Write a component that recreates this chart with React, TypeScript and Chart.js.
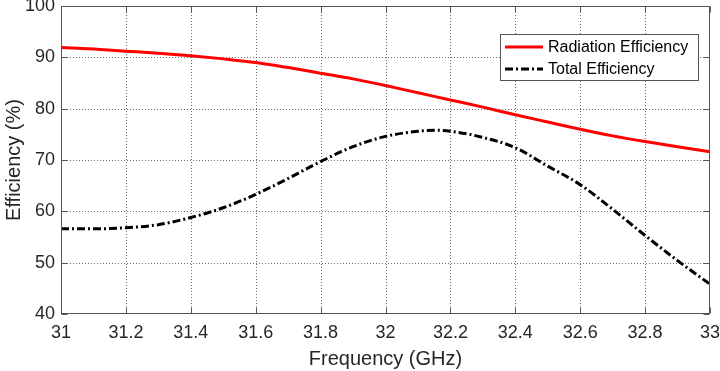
import React, { useEffect, useRef } from "react";
import { Chart, registerables } from "chart.js";

Chart.register(...registerables);

// Frequency samples (GHz)
const frequency = [
  31.0, 31.1, 31.2, 31.3, 31.4, 31.5, 31.6, 31.7, 31.8, 31.9, 32.0,
  32.1, 32.15, 32.2, 32.3, 32.4, 32.5, 32.6, 32.7, 32.8, 32.9, 33.0,
];

// Efficiency values (%)
const radiationEfficiency = [
  91.9, 91.6, 91.2, 90.8, 90.3, 89.7, 89.0, 88.0, 86.9, 85.8, 84.5,
  83.1, 82.4, 81.7, 80.3, 78.8, 77.4, 76.0, 74.7, 73.6, 72.6, 71.6,
];
const totalEfficiency = [
  56.6, 56.6, 56.8, 57.4, 58.8, 60.7, 63.3, 66.4, 69.7, 72.6, 74.6,
  75.6, 75.8, 75.6, 74.4, 72.4, 68.8, 65.2, 60.4, 55.3, 50.4, 45.8,
];

const seriesNames = ["Radiation Efficiency", "Total Efficiency"];
const xTitle = "Frequency (GHz)";
const yTitle = "Efficiency (%)";

const FONT = '"Liberation Sans", Arial, Helvetica, sans-serif';
const AXIS_COLOR = "#262626";
const RED = "#ff0000";
const BLACK = "#000000";
const TOTAL_DASH = [8, 3, 2, 3];

// Dotted grid, boxed axes with inward tick marks, and an in-plot legend
const framePlugin = {
  id: "frame",
  beforeDatasetsDraw(chart: any) {
    const { ctx, chartArea: a, scales } = chart;
    ctx.save();
    ctx.strokeStyle = "rgba(60,60,60,0.75)";
    ctx.lineWidth = 1;
    ctx.setLineDash([1, 2]);
    scales.x.ticks.forEach((t: any) => {
      const px = Math.round(scales.x.getPixelForValue(t.value)) + 0.5;
      if (px <= a.left + 1 || px >= a.right - 1) return;
      ctx.beginPath();
      ctx.moveTo(px, a.top);
      ctx.lineTo(px, a.bottom);
      ctx.stroke();
    });
    scales.y.ticks.forEach((t: any) => {
      const py = Math.round(scales.y.getPixelForValue(t.value)) + 0.5;
      if (py <= a.top + 1 || py >= a.bottom - 1) return;
      ctx.beginPath();
      ctx.moveTo(a.left, py);
      ctx.lineTo(a.right, py);
      ctx.stroke();
    });
    ctx.restore();
  },
  afterDatasetsDraw(chart: any) {
    const { ctx, chartArea: a, scales } = chart;
    ctx.save();
    ctx.strokeStyle = "#555555";
    ctx.lineWidth = 1;
    ctx.setLineDash([]);
    const L = Math.round(a.left) + 0.5;
    const R = Math.round(a.right) - 0.5;
    const T = Math.round(a.top) + 0.5;
    const B = Math.round(a.bottom) - 0.5;
    ctx.strokeRect(L, T, R - L, B - T);
    const tick = 6;
    scales.x.ticks.forEach((t: any) => {
      const px = Math.round(scales.x.getPixelForValue(t.value)) + 0.5;
      ctx.beginPath();
      ctx.moveTo(px, B);
      ctx.lineTo(px, B - tick);
      ctx.moveTo(px, T);
      ctx.lineTo(px, T + tick);
      ctx.stroke();
    });
    scales.y.ticks.forEach((t: any) => {
      const py = Math.round(scales.y.getPixelForValue(t.value)) + 0.5;
      ctx.beginPath();
      ctx.moveTo(L, py);
      ctx.lineTo(L + tick, py);
      ctx.moveTo(R, py);
      ctx.lineTo(R - tick, py);
      ctx.stroke();
    });

    // legend box in the upper right of the plot
    const bx = 500.5, by = 34.5, bw = 198, bh = 46;
    ctx.fillStyle = "#ffffff";
    ctx.fillRect(bx, by, bw, bh);
    ctx.strokeStyle = "#555555";
    ctx.strokeRect(bx, by, bw, bh);
    const rows = [
      { name: seriesNames[0], color: RED, dash: [] as number[], y: 47 },
      { name: seriesNames[1], color: BLACK, dash: TOTAL_DASH, y: 69 },
    ];
    ctx.font = `16px ${FONT}`;
    ctx.textBaseline = "middle";
    ctx.textAlign = "left";
    rows.forEach((r) => {
      ctx.strokeStyle = r.color;
      ctx.lineWidth = 3;
      ctx.setLineDash(r.dash);
      ctx.beginPath();
      ctx.moveTo(505, r.y);
      ctx.lineTo(543, r.y);
      ctx.stroke();
      ctx.setLineDash([]);
      ctx.fillStyle = "#000000";
      ctx.fillText(r.name, 548, r.y + 1);
    });
    ctx.restore();
  },
};

export default function App() {
  const canvasRef = useRef<HTMLCanvasElement | null>(null);

  useEffect(() => {
    if (!canvasRef.current) return;
    const toPoints = (ys: number[]) => frequency.map((x, i) => ({ x, y: ys[i] }));
    const chart = new Chart(canvasRef.current, {
      type: "line",
      data: {
        datasets: [
          {
            label: seriesNames[0],
            data: toPoints(radiationEfficiency),
            borderColor: RED,
            borderWidth: 3,
            pointRadius: 0,
            cubicInterpolationMode: "monotone",
          },
          {
            label: seriesNames[1],
            data: toPoints(totalEfficiency),
            borderColor: BLACK,
            borderWidth: 3,
            borderDash: TOTAL_DASH,
            pointRadius: 0,
            cubicInterpolationMode: "monotone",
          },
        ],
      },
      options: {
        responsive: false,
        animation: false,
        devicePixelRatio: 1,
        layout: { padding: { left: 0, right: 10, top: 6, bottom: 0 } },
        plugins: {
          legend: { display: false },
          tooltip: { enabled: false },
        },
        scales: {
          x: {
            type: "linear",
            min: 31,
            max: 33,
            grid: { display: false, drawTicks: false, tickLength: 0 },
            border: { display: false },
            ticks: {
              stepSize: 0.2,
              padding: 8,
              color: AXIS_COLOR,
              font: { family: FONT, size: 18 },
              maxRotation: 0,
              autoSkip: false,
              callback: (v: any) => String(Number(Number(v).toFixed(1))),
            },
            title: {
              display: true,
              text: xTitle,
              color: AXIS_COLOR,
              font: { family: FONT, size: 20 },
              padding: { top: 0, bottom: 0 },
            },
            afterFit: (s: any) => {
              s.height = 57;
              s.paddingLeft = 0;
              s.paddingRight = 0;
            },
          },
          y: {
            min: 40,
            max: 100,
            grid: { display: false, drawTicks: false, tickLength: 0 },
            border: { display: false },
            ticks: {
              stepSize: 10,
              padding: 6,
              color: AXIS_COLOR,
              font: { family: FONT, size: 18 },
            },
            title: {
              display: true,
              text: yTitle,
              color: AXIS_COLOR,
              font: { family: FONT, size: 20 },
              padding: { top: 2, bottom: 0 },
            },
            afterFit: (s: any) => {
              s.width = 61;
              s.paddingTop = 0;
              s.paddingBottom = 0;
            },
          },
        },
      },
      plugins: [framePlugin],
    });
    return () => chart.destroy();
  }, []);

  return (
    <div style={{ position: "absolute", left: 0, top: 0, width: 720, height: 371, background: "#ffffff" }}>
      <canvas ref={canvasRef} width={720} height={371} />
    </div>
  );
}
